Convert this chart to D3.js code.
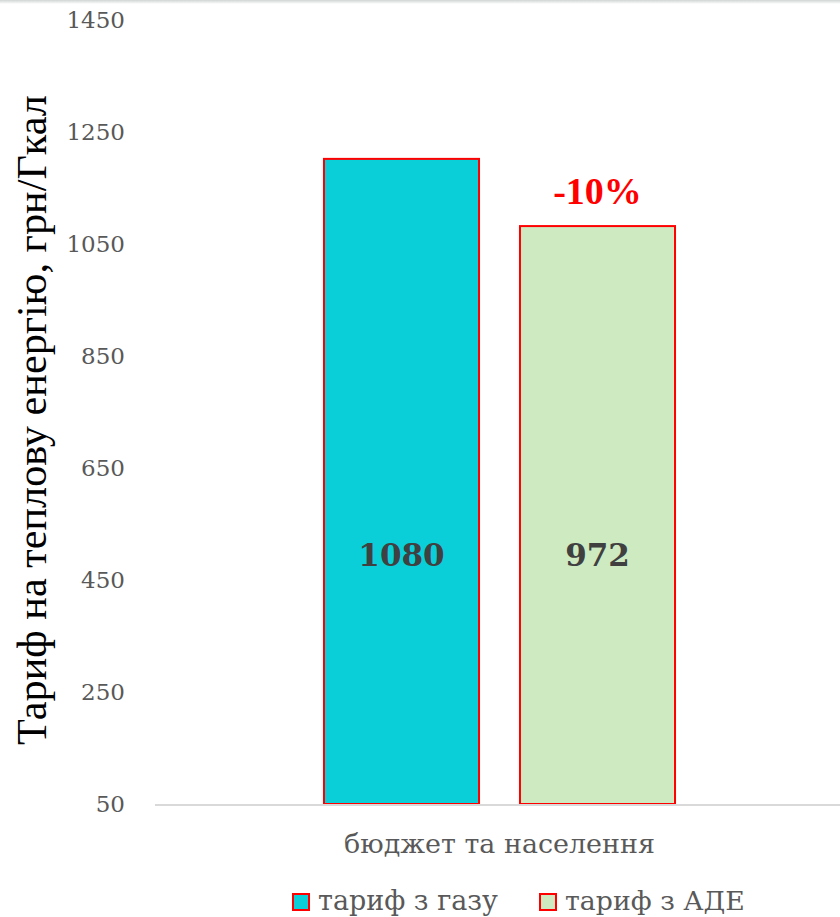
<!DOCTYPE html>
<html>
<head>
<meta charset="utf-8">
<script src="https://cdn.jsdelivr.net/npm/d3@7"></script>
<style>
  body { margin: 0; background: #fff; }
  svg { display: block; }
</style>
</head>
<body>
<svg id="viz"></svg>
<script>
const svg = d3.select("#viz");

const width = 840;
const height = 917;

// Data
const categories = ["бюджет та населення"];
const series = ["тариф з газу", "тариф з АДЕ"];
const values = [1202, 1082];          // bar heights
const valueLabels = ["1080", "972"];  // numbers printed inside the bars
const changeLabel = "-10%";
const yTicks = [50, 250, 450, 650, 850, 1050, 1250, 1450];
const colors = ["#0bcfd8", "#cdeac0"];

const serif = "'DejaVu Serif', serif";
const times = "'Liberation Serif', serif";

svg.attr("width", width).attr("height", height);

// scale a text's font size so it spans the given width
function fit(sel, w) {
  sel.each(function () {
    const t = d3.select(this);
    const fs = +t.attr("font-size");
    const len = this.getComputedTextLength();
    if (len > 0) t.attr("font-size", fs * w / len);
  });
}

// faint shadow on top edge
const grad = svg.append("defs").append("linearGradient")
  .attr("id", "topShade").attr("x1", 0).attr("y1", 0).attr("x2", 0).attr("y2", 1);
grad.append("stop").attr("offset", "0%").attr("stop-color", "#d0d6d4");
grad.append("stop").attr("offset", "100%").attr("stop-color", "#ffffff");
svg.append("rect").attr("x", 0).attr("y", 0).attr("width", width).attr("height", 4)
  .attr("fill", "url(#topShade)");

const y = d3.scaleLinear().domain([50, 1450]).range([804, 20]);

const x0 = d3.scaleBand()
  .domain(categories)
  .range([159, 840])
  .paddingInner(0)
  .paddingOuter(0.47);

const x1 = d3.scaleBand()
  .domain(series)
  .range([0, x0.bandwidth()])
  .paddingInner(0.209);

// y tick labels (no axis line)
const yAxis = svg.append("g")
  .attr("transform", "translate(125,0)")
  .call(d3.axisLeft(y).tickValues(yTicks).tickSize(0).tickPadding(0).tickFormat(d3.format("d")));
yAxis.select(".domain").remove();
yAxis.selectAll("text")
  .attr("font-family", serif)
  .attr("font-size", 23)
  .attr("fill", "#595959");

// bars
const cat = categories[0];
svg.selectAll("rect.bar")
  .data(series)
  .enter()
  .append("rect")
  .attr("class", "bar")
  .attr("x", d => x0(cat) + x1(d))
  .attr("y", (d, i) => y(values[i]))
  .attr("width", x1.bandwidth())
  .attr("height", (d, i) => y(50) - y(values[i]))
  .attr("fill", (d, i) => colors[i])
  .attr("stroke", "#ff0000")
  .attr("stroke-width", 2);

// baseline
svg.append("line")
  .attr("x1", 155).attr("x2", 840)
  .attr("y1", y(50) + 1).attr("y2", y(50) + 1)
  .attr("stroke", "#d9d9d9")
  .attr("stroke-width", 2);

// value labels in the middle of bars
svg.selectAll("text.val")
  .data(series)
  .enter()
  .append("text")
  .attr("class", "val")
  .attr("x", d => x0(cat) + x1(d) + x1.bandwidth() / 2)
  .attr("y", 566)
  .attr("text-anchor", "middle")
  .attr("font-family", serif)
  .attr("font-weight", "bold")
  .attr("font-size", 31)
  .attr("fill", "#404040")
  .text((d, i) => valueLabels[i]);

// change label above second bar
svg.append("text")
  .attr("x", x0(cat) + x1(series[1]) + x1.bandwidth() / 2)
  .attr("y", y(values[1]) - 22)
  .attr("text-anchor", "middle")
  .attr("font-family", times)
  .attr("font-weight", "bold")
  .attr("font-size", 38)
  .attr("fill", "#ff0000")
  .text(changeLabel);

// category label
svg.append("text")
  .attr("x", x0(cat) + x0.bandwidth() / 2)
  .attr("y", 853)
  .attr("text-anchor", "middle")
  .attr("font-family", serif)
  .attr("font-size", 24)
  .attr("fill", "#595959")
  .text(cat)
  .call(fit, 311);

// y title
svg.append("text")
  .attr("transform", "translate(46,420) rotate(-90)")
  .attr("text-anchor", "middle")
  .attr("font-family", times)
  .attr("font-size", 38)
  .attr("fill", "#000")
  .text("Тариф на теплову енергію, грн/Гкал")
  .call(fit, 650);

// legend
const legendX = [292, 539];
const legend = svg.selectAll("g.leg")
  .data(series)
  .enter()
  .append("g")
  .attr("class", "leg")
  .attr("transform", (d, i) => `translate(${legendX[i]},893)`);
legend.append("rect")
  .attr("x", 1).attr("y", 1)
  .attr("width", 16).attr("height", 16)
  .attr("fill", (d, i) => colors[i])
  .attr("stroke", "#ff0000")
  .attr("stroke-width", 2);
legend.append("text")
  .attr("x", 26)
  .attr("y", 17)
  .attr("font-family", serif)
  .attr("font-size", 26)
  .attr("fill", "#595959")
  .text(d => d)
  .call(fit, 180);
</script>
</body>
</html>
